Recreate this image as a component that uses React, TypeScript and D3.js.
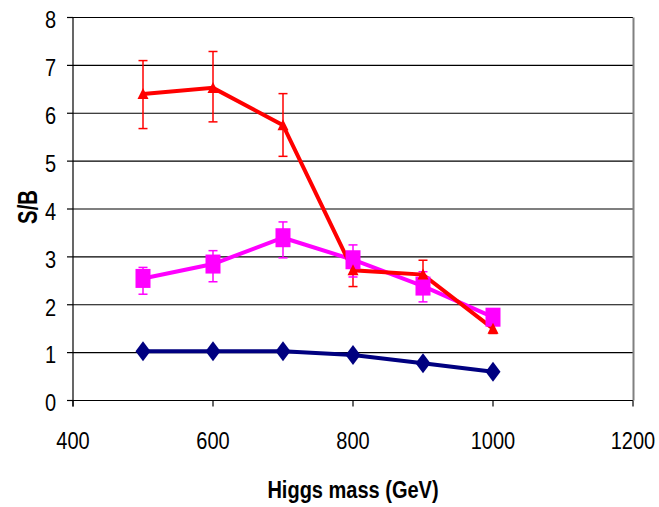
import React from "react";
import * as d3 from "d3";

const masses = [500, 600, 700, 800, 900, 1000];
const blueValues = [1.03, 1.03, 1.03, 0.95, 0.78, 0.6];
const magentaValues = [2.55, 2.85, 3.4, 2.94, 2.39, 1.74];
const magentaErrUp = [0.23, 0.28, 0.33, 0.31, 0.3, 0.12];
const magentaErrDown = [0.33, 0.37, 0.42, 0.36, 0.33, 0.12];
const redValues = [6.4, 6.53, 5.75, 2.72, 2.63, 1.5];
const redErrUp = [0.7, 0.76, 0.66, 0.34, 0.3, 0.1];
const redErrDown = [0.72, 0.71, 0.65, 0.34, 0.32, 0.1];
const xTicks = [400, 600, 800, 1000, 1200];
const yTicks = [0, 1, 2, 3, 4, 5, 6, 7, 8];

const W = 659;
const H = 507;
const left = 73;
const right = 633;
const top = 17.5;
const bottom = 400.5;

export default function App() {
  const x = d3.scaleLinear().domain([400, 1200]).range([left, right]);
  const y = d3.scaleLinear().domain([0, 8]).range([bottom, top]);
  const line = d3
    .line<[number, number]>()
    .x((d) => x(d[0]))
    .y((d) => y(d[1]));
  const font = "'Liberation Sans', Arial, sans-serif";
  const blue = "#000080";
  const mag = "#ff00ff";
  const red = "#ff0000";

  const errBars = (vals: number[], up: number[], dn: number[], color: string) =>
    masses.map((m, i) => {
      const cx = x(m);
      const y1 = y(vals[i] + up[i]);
      const y2 = y(vals[i] - dn[i]);
      return (
        <g key={"e" + color + i} stroke={color} strokeWidth={1.5}>
          <line x1={cx} x2={cx} y1={y1} y2={y2} />
          <line x1={cx - 4.5} x2={cx + 4.5} y1={y1} y2={y1} />
          <line x1={cx - 4.5} x2={cx + 4.5} y1={y2} y2={y2} />
        </g>
      );
    });

  return (
    <svg
      width={W}
      height={H}
      style={{ position: "absolute", left: 0, top: 0, background: "#fff" }}
    >
      {yTicks.map((t) => (
        <line
          key={"g" + t}
          x1={left}
          x2={right}
          y1={y(t)}
          y2={y(t)}
          stroke="#000"
          strokeWidth={1.2}
        />
      ))}
      <line x1={right + 0.5} x2={right + 0.5} y1={top} y2={bottom} stroke="#808080" strokeWidth={2} />
      <line x1={left} x2={left} y1={top} y2={bottom + 6} stroke="#000" strokeWidth={1.2} />
      {yTicks.map((t) => (
        <g key={"yt" + t}>
          <line x1={left - 6} x2={left} y1={y(t)} y2={y(t)} stroke="#000" strokeWidth={1.2} />
          <text
            transform={`translate(${left - 17}, ${y(t) + 2.5}) scale(0.87, 1)`}
            dy="0.36em"
            textAnchor="end"
            fontFamily={font}
            fontSize={23}
            fill="#000"
          >
            {t}
          </text>
        </g>
      ))}
      {xTicks.map((t) => (
        <g key={"xt" + t}>
          <line x1={x(t)} x2={x(t)} y1={bottom} y2={bottom + 6} stroke="#000" strokeWidth={1.2} />
          <text
            transform={`translate(${x(t)}, ${bottom + 48}) scale(0.87, 1)`}
            textAnchor="middle"
            fontFamily={font}
            fontSize={23}
            fill="#000"
          >
            {t}
          </text>
        </g>
      ))}
      <text
        transform={`translate(353, 498) scale(0.87, 1)`}
        textAnchor="middle"
        fontFamily={font}
        fontSize={23}
        fontWeight="bold"
      >
        Higgs mass (GeV)
      </text>
      <text
        transform={`translate(37, ${y(4) - 2}) rotate(-90) scale(0.75, 1)`}
        textAnchor="middle"
        fontFamily={font}
        fontSize={27}
        fontWeight="bold"
      >
        S/B
      </text>

      {errBars(redValues, redErrUp, redErrDown, red)}
      {errBars(magentaValues, magentaErrUp, magentaErrDown, mag)}

      <path
        d={line(masses.map((m, i) => [m, blueValues[i]]) as [number, number][]) || ""}
        fill="none"
        stroke={blue}
        strokeWidth={4}
      />
      <path
        d={line(masses.map((m, i) => [m, magentaValues[i]]) as [number, number][]) || ""}
        fill="none"
        stroke={mag}
        strokeWidth={4}
      />
      <path
        d={line(masses.map((m, i) => [m, redValues[i]]) as [number, number][]) || ""}
        fill="none"
        stroke={red}
        strokeWidth={4}
      />

      {masses.map((m, i) => {
        const cx = x(m);
        const cy = y(blueValues[i]);
        return (
          <path
            key={"bd" + i}
            d={`M${cx},${cy - 10} L${cx + 7.5},${cy} L${cx},${cy + 10} L${cx - 7.5},${cy} Z`}
            fill={blue}
          />
        );
      })}
      {masses.map((m, i) => {
        const cx = x(m);
        const cy = y(magentaValues[i]);
        return <rect key={"ms" + i} x={cx - 7.5} y={cy - 9.5} width={15} height={19} fill={mag} />;
      })}
      {masses.map((m, i) => {
        const cx = x(m);
        const cy = y(redValues[i]);
        return (
          <path
            key={"rt" + i}
            d={`M${cx},${cy - 6} L${cx + 5.5},${cy + 5} L${cx - 5.5},${cy + 5} Z`}
            fill={red}
          />
        );
      })}
    </svg>
  );
}
